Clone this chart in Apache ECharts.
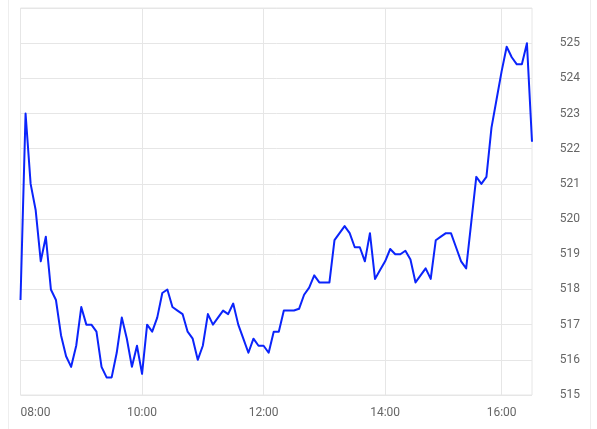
<!DOCTYPE html>
<html>
<head>
<meta charset="utf-8">
<script src="https://cdn.jsdelivr.net/npm/echarts@6/dist/echarts.min.js"></script>
<style>
html,body{margin:0;padding:0;background:#fff;}
#frame{position:absolute;left:8px;top:0;width:583px;height:429px;border-left:1px solid #eeeeee;border-right:1px solid #eeeeee;box-sizing:border-box;}
#chart{position:absolute;left:0;top:0;width:597px;height:429px;}
</style>
</head>
<body>
<div id="frame"></div>
<div id="chart"></div>
<script>
var times = [
"08:00","08:05","08:10","08:15","08:20","08:25","08:30","08:35","08:40","08:45","08:50","08:55",
"09:00","09:05","09:10","09:15","09:20","09:25","09:30","09:35","09:40","09:45","09:50","09:55",
"10:00","10:05","10:10","10:15","10:20","10:25","10:30","10:35","10:40","10:45","10:50","10:55",
"11:00","11:05","11:10","11:15","11:20","11:25","11:30","11:35","11:40","11:45","11:50","11:55",
"12:00","12:05","12:10","12:15","12:20","12:25","12:30","12:35","12:40","12:45","12:50","12:55",
"13:00","13:05","13:10","13:15","13:20","13:25","13:30","13:35","13:40","13:45","13:50","13:55",
"14:00","14:05","14:10","14:15","14:20","14:25","14:30","14:35","14:40","14:45","14:50","14:55",
"15:05","15:10","15:15","15:20","15:25","15:30","15:35","15:40","15:45","15:50","15:55",
"16:00","16:05","16:10","16:15","16:20","16:25","16:30"
];
var prices = [
517.7,523.0,521.0,520.25,518.8,519.5,518.0,517.7,516.7,516.1,515.8,516.4,
517.5,517.0,517.0,516.8,515.8,515.5,515.5,516.2,517.2,516.6,515.8,516.4,
515.6,517.0,516.8,517.2,517.9,518.0,517.5,517.4,517.3,516.8,516.6,516.0,
516.4,517.3,517.0,517.2,517.4,517.3,517.6,517.0,516.6,516.2,516.6,516.4,
516.4,516.2,516.8,516.8,517.4,517.4,517.4,517.45,517.85,518.05,518.4,518.2,
518.2,518.2,519.4,519.6,519.8,519.6,519.2,519.2,518.8,519.6,518.3,518.55,
518.8,519.15,519.0,519.0,519.1,518.85,518.2,518.4,518.6,518.3,519.4,519.5,
519.6,519.6,519.2,518.8,518.6,519.9,521.2,521.0,521.2,522.6,523.4,
524.2,524.9,524.6,524.4,524.4,525.0,522.2
];
var hourTicks = ["08:00","10:00","12:00","14:00","16:00"];
var yMin = 515, yMax = 526, yStep = 1;

var chart = echarts.init(document.getElementById('chart'));
chart.setOption({
  animation: false,
  grid: {left: 20.5, right: 65, top: 8, bottom: 34, show: true, borderColor: '#e6e6e6', borderWidth: 1},
  xAxis: {
    type: 'category',
    data: times,
    boundaryGap: false,
    axisLine: {show: false},
    axisTick: {show: false},
    axisLabel: {
      interval: function(i, v){ return hourTicks.indexOf(v) >= 0; },
      color: '#666666',
      fontFamily: 'Roboto',
      fontSize: 12,
      margin: 12,
      alignMinLabel: 'left'
    },
    splitLine: {
      show: true,
      interval: function(i, v){ return hourTicks.indexOf(v) > 0; },
      lineStyle: {color: '#e6e6e6', width: 1}
    }
  },
  yAxis: {
    type: 'value',
    position: 'right',
    min: yMin,
    max: yMax,
    interval: yStep,
    axisLine: {show: false},
    axisTick: {show: false},
    axisLabel: {
      color: '#666666',
      fontFamily: 'Roboto',
      fontSize: 12,
      margin: 48,
      align: 'right',
      showMaxLabel: false
    },
    splitLine: {lineStyle: {color: '#e6e6e6', width: 1}}
  },
  series: [{
    type: 'line',
    data: prices,
    showSymbol: false,
    lineStyle: {color: '#0b24fb', width: 2, join: 'round'},
    itemStyle: {color: '#0b24fb'}
  }]
});
</script>
</body>
</html>
